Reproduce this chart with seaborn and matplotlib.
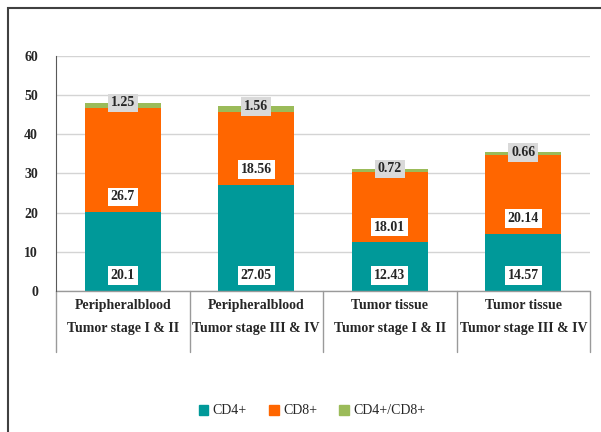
import matplotlib
matplotlib.use("Agg")
import matplotlib.pyplot as plt
from matplotlib.patches import Patch, Rectangle
import seaborn as sns
import pandas as pd

# data
groups = ["Peripheralblood", "Peripheralblood", "Tumor tissue", "Tumor tissue"]
stages = ["Tumor stage I & II", "Tumor stage III & IV", "Tumor stage I & II", "Tumor stage III & IV"]
cd4 = [20.1, 27.05, 12.43, 14.57]
cd8 = [26.7, 18.56, 18.01, 20.14]
cd4cd8 = [1.25, 1.56, 0.72, 0.66]

c_cd4 = "#009999"
c_cd8 = "#FF6600"
c_both = "#9BBB59"

df = pd.DataFrame({"pos": [str(i) for i in range(4)], "cd4": cd4, "cd8": cd8, "both": cd4cd8})
df["cd4_8"] = df["cd4"] + df["cd8"]
df["total"] = df["cd4_8"] + df["both"]

sns.set_style("white")
plt.rcParams["font.family"] = ["Liberation Serif", "DejaVu Serif"]

fig = plt.figure(figsize=(6.01, 4.32), dpi=100)
ax = fig.add_axes([56 / 601, (432 - 291) / 432, (590 - 56) / 601, 235 / 432])

# stacked by overlaying cumulative bars
bar_kw = dict(x="pos", saturation=1, width=0.57, linewidth=0, ax=ax)
sns.barplot(data=df, y="total", color=c_both, **bar_kw)
sns.barplot(data=df, y="cd4_8", color=c_cd8, **bar_kw)
sns.barplot(data=df, y="cd4", color=c_cd4, **bar_kw)

ax.set_xlim(-0.5, 3.5)
ax.set_ylim(0, 60)
ax.set_yticks(range(0, 61, 10))
ax.set_xticks([])
ax.set_xlabel("")
ax.set_ylabel("")
ax.yaxis.grid(True, color="#d4d4d4", linewidth=1)
ax.set_axisbelow(True)
for s in ["top", "right", "bottom"]:
    ax.spines[s].set_visible(False)
ax.spines["left"].set_color("#595959")
ax.tick_params(axis="y", length=0, pad=13, labelsize=10)
for t in ax.get_yticklabels():
    t.set_fontweight("bold")

# value labels
box_w = dict(boxstyle="square,pad=0.2", fc="white", ec="none")
box_g = dict(boxstyle="square,pad=0.2", fc="#d9d9d9", ec="none")
for i in range(4):
    ax.annotate(f"{cd4[i]:g}", (i, 0), xytext=(0, 11), textcoords="offset points",
                ha="center", va="center", fontsize=10, fontweight="bold", bbox=box_w)
    ax.annotate(f"{cd8[i]:g}", (i, cd4[i]), xytext=(0, 11), textcoords="offset points",
                ha="center", va="center", fontsize=10, fontweight="bold", bbox=box_w)
    ax.annotate(f"{cd4cd8[i]:g}", (i, df["total"][i]), ha="center", va="center",
                fontsize=10, fontweight="bold", bbox=box_g)

# category table under the axis
trans = ax.get_xaxis_transform()
ax.plot([-0.5, 3.5], [0, 0], color="#9a9a9a", lw=1, transform=trans, clip_on=False)
for b in [-0.5, 0.5, 1.5, 2.5, 3.5]:
    ax.plot([b, b], [0, -0.26], color="#9a9a9a", lw=1, transform=trans, clip_on=False)
for i in range(4):
    ax.text(i, -0.06, groups[i], transform=trans, ha="center", va="center",
            fontsize=10, fontweight="bold")
    ax.text(i, -0.158, stages[i], transform=trans, ha="center", va="center",
            fontsize=10, fontweight="bold")

handles = [Patch(color=c_cd4, label="CD4+"), Patch(color=c_cd8, label="CD8+"),
           Patch(color=c_both, label="CD4+/CD8+")]
fig.legend(handles=handles, loc="center", bbox_to_anchor=(312 / 601, (432 - 411) / 432),
           ncol=3, frameon=False, fontsize=10, handlelength=0.7, handleheight=0.7,
           handletextpad=0.3, columnspacing=1.6)

fig.patches.append(Rectangle((8 / 601, -0.05), 1.0, (432 - 8) / 432 + 0.05,
                             transform=fig.transFigure, fill=False, ec="#404040", lw=1.5))

fig.savefig("out.png", dpi=100)
